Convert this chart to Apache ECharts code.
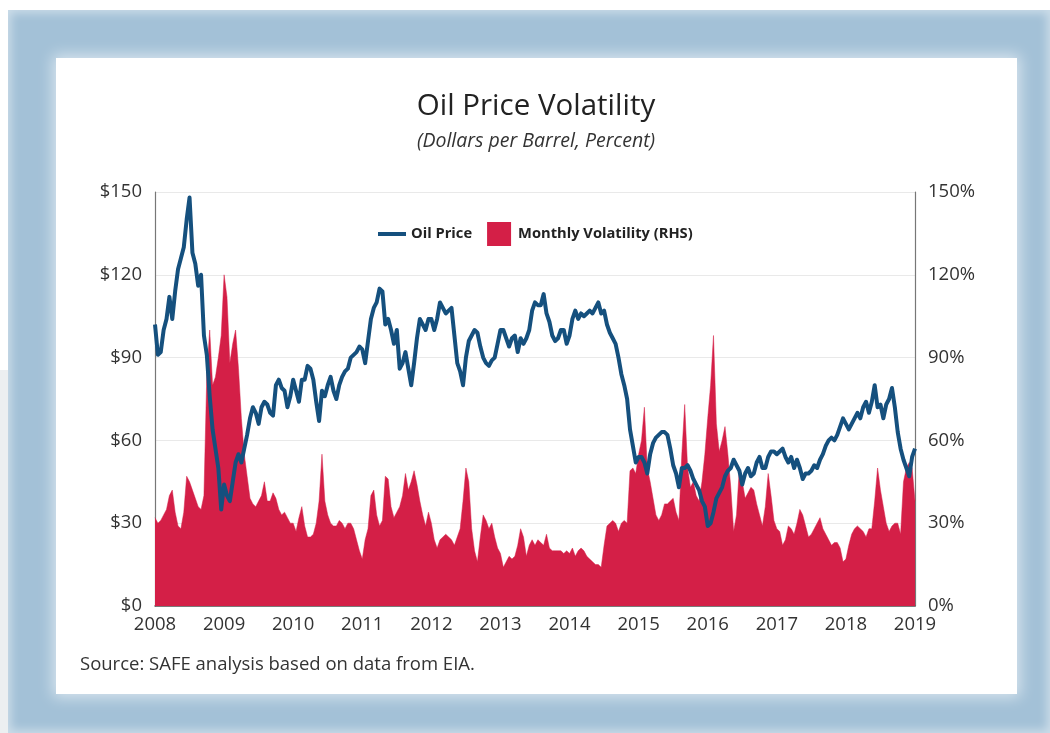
<!DOCTYPE html>
<html>
<head>
<meta charset="utf-8">
<title>Oil Price Volatility</title>
<script src="https://cdn.jsdelivr.net/npm/echarts@6/dist/echarts.min.js"></script>
<style>
    html, body { margin: 0; padding: 0; background: #fff; }
    body { width: 1050px; height: 733px; position: relative; overflow: hidden; }
    #strip { position: absolute; left: 0; top: 370px; width: 8px; height: 363px; background: #eceff1; }
    #frame {
        position: absolute; left: 8px; top: 10px; width: 1042px; height: 723px;
        background: #a3c1d7;
        box-shadow: inset 0 0 10px 3px rgba(255, 255, 255, 0.45);
    }
    #panel {
        position: absolute; left: 56px; top: 58px; width: 961px; height: 636px;
        background: #fff;
        box-shadow: 0 0 14px 3px rgba(255, 255, 255, 0.6);
    }
    #chart { position: absolute; left: 0; top: 0; width: 1050px; height: 733px; }
</style>
</head>
<body>
<div id="strip"></div>
<div id="frame"></div>
<div id="panel"></div>
<div id="chart"></div>
<script>
// semi-monthly readings, 24 per year, Jan 2008 .. Jan 2019
const startYear = 2008;
const pointsPerYear = 24;
const yearTicks = [2008, 2019];

// oil price, $ per barrel
const oilPrice = [
    102, 91, 92, 100, 104, 112, 104, 114, 122, 126, 130, 140, 148, 128, 124, 116, 120, 98, 91, 76, 64, 57, 50, 35, // 2008
    44, 40, 38, 45, 52, 55, 52, 57, 62, 68, 72, 70, 66, 72, 74, 73, 70, 69, 80, 82, 79, 78, 72, 76,             // 2009
    82, 78, 74, 82, 82, 87, 86, 82, 74, 67, 78, 76, 80, 83, 78, 75, 80, 83, 85, 86, 90, 91, 92, 94,             // 2010
    93, 88, 96, 104, 108, 110, 115, 114, 102, 104, 100, 95, 100, 86, 88, 92, 86, 80, 88, 97, 104, 102, 100, 104, // 2011
    104, 100, 104, 110, 108, 106, 107, 108, 98, 88, 85, 80, 90, 96, 98, 100, 99, 94, 90, 88, 87, 89, 90, 95,    // 2012
    100, 100, 97, 94, 97, 98, 92, 97, 95, 97, 100, 107, 110, 109, 109, 113, 106, 103, 98, 96, 97, 100, 100, 95, // 2013
    98, 104, 107, 104, 106, 105, 106, 107, 106, 108, 110, 106, 107, 102, 99, 97, 95, 90, 84, 80, 75, 64, 58, 52, // 2014
    54, 54, 52, 48, 55, 59, 61, 62, 63, 63, 62, 57, 51, 48, 43, 50, 50, 51, 49, 46, 44, 42, 38, 36,             // 2015
    29, 30, 34, 39, 41, 43, 47, 49, 50, 53, 51, 49, 44, 48, 50, 47, 48, 52, 54, 50, 50, 54, 56, 56,             // 2016
    55, 56, 57, 54, 52, 54, 50, 53, 50, 46, 48, 48, 49, 51, 50, 53, 55, 58, 60, 61, 60, 62, 65, 68,             // 2017
    66, 64, 66, 68, 70, 68, 72, 74, 70, 74, 80, 72, 73, 68, 73, 75, 79, 72, 63, 57, 53, 50, 47, 54,             // 2018
    57                                                                                                          // 2019
];

// monthly volatility, percent (RHS)
const volatility = [
    32, 30, 31, 33, 35, 40, 42, 34, 29, 28, 34, 47, 45, 42, 39, 36, 35, 40, 84, 100, 80, 83, 90, 98, // 2008
    120, 112, 88, 95, 100, 86, 68, 55, 47, 39, 37, 36, 38, 40, 45, 38, 38, 41, 39, 35, 33, 34, 32, 30, // 2009
    30, 27, 32, 36, 29, 25, 25, 26, 30, 38, 55, 38, 33, 30, 29, 29, 31, 30, 28, 30, 30, 28, 24, 20,    // 2010
    17, 24, 28, 40, 42, 33, 29, 31, 47, 46, 36, 32, 34, 36, 40, 48, 42, 45, 49, 44, 38, 33, 29, 34,    // 2011
    30, 24, 21, 24, 25, 26, 25, 24, 22, 25, 28, 38, 50, 45, 28, 20, 16, 25, 33, 31, 28, 30, 25, 21,    // 2012
    19, 14, 16, 18, 17, 18, 22, 28, 25, 18, 22, 24, 22, 24, 23, 22, 26, 21, 20, 20, 20, 20, 19, 20,    // 2013
    19, 21, 18, 20, 21, 20, 18, 17, 16, 15, 15, 14, 22, 29, 30, 31, 30, 27, 30, 31, 30, 49, 50, 48,    // 2014
    55, 60, 72, 50, 45, 39, 33, 31, 33, 37, 37, 38, 39, 34, 31, 55, 73, 50, 43, 45, 40, 38, 45, 55,    // 2015
    68, 80, 98, 66, 56, 60, 65, 55, 43, 27, 33, 50, 45, 39, 41, 43, 42, 37, 33, 29, 36, 48, 40, 31,    // 2016
    28, 27, 22, 24, 29, 28, 26, 30, 35, 33, 29, 25, 26, 28, 30, 32, 28, 26, 24, 22, 23, 23, 21, 16,    // 2017
    17, 22, 26, 28, 29, 28, 27, 25, 28, 28, 38, 50, 42, 36, 30, 27, 29, 30, 30, 26, 45, 50, 52, 50,    // 2018
    38                                                                                                  // 2019
];

const priceTicks = [0, 150, 30];

document.addEventListener('DOMContentLoaded', function () {
    const chartDom = document.getElementById('chart');
    const oilChart = echarts.init(chartDom, null, { renderer: 'canvas' });

    const toPoints = function (arr) {
        return arr.map(function (v, i) { return [startYear + i / pointsPerYear, v]; });
    };

    const font = 'Open Sans';
    const red = '#d41f47';
    const blue = '#15507e';

    const option = {
        animation: false,
        title: [
            {
                text: 'Oil Price Volatility',
                subtext: '(Dollars per Barrel, Percent)',
                left: 531,
                textAlign: 'center',
                top: 87,
                itemGap: 9,
                textStyle: { fontFamily: font, fontSize: 29.5, fontWeight: 'normal', color: '#222' },
                subtextStyle: { fontFamily: font, fontSize: 19.5, fontStyle: 'italic', color: '#333' }
            },
            {
                text: 'Source: SAFE analysis based on data from EIA.',
                left: 75,
                top: 650,
                textStyle: { fontFamily: font, fontSize: 18.5, fontWeight: 'normal', color: '#333' }
            }
        ],
        legend: {
            left: 373,
            top: 217,
            itemWidth: 28,
            itemHeight: 24,
            itemGap: 15,
            symbolKeepAspect: true,
            textStyle: { fontFamily: font, fontSize: 14.7, fontWeight: 'bold', color: '#222' },
            data: [
                { name: 'Oil Price', icon: 'path://M0,0 L28,0 L28,4 L0,4 Z' },
                { name: 'Monthly Volatility (RHS)', icon: 'path://M0,0 L24,0 L24,24 L0,24 Z' }
            ]
        },
        grid: { left: 155, right: 135, top: 192, bottom: 127 },
        xAxis: {
            type: 'value',
            min: yearTicks[0],
            max: yearTicks[1],
            interval: 1,
            axisLine: { show: true, onZero: false, lineStyle: { color: '#555', width: 1.5 } },
            axisTick: { show: false },
            splitLine: { show: false },
            axisLabel: {
                fontFamily: font, fontSize: 18.5, color: '#333', margin: 9,
                formatter: function (v) { return String(v); }
            }
        },
        yAxis: [
            {
                type: 'value',
                position: 'left',
                min: priceTicks[0],
                max: priceTicks[1],
                interval: priceTicks[2],
                axisLine: { show: true, lineStyle: { color: '#777', width: 1.2 } },
                axisTick: { show: false },
                splitLine: { show: true, lineStyle: { color: '#e9e9e9' } },
                axisLabel: { fontFamily: font, fontSize: 18.5, color: '#333', margin: 13, formatter: '${value}' }
            },
            {
                type: 'value',
                position: 'right',
                min: priceTicks[0],
                max: priceTicks[1],
                interval: priceTicks[2],
                axisLine: { show: true, lineStyle: { color: '#777', width: 1.2 } },
                axisTick: { show: false },
                splitLine: { show: false },
                axisLabel: { fontFamily: font, fontSize: 18.5, color: '#333', margin: 13, formatter: '{value}%' }
            }
        ],
        series: [
            {
                name: 'Monthly Volatility (RHS)',
                type: 'line',
                yAxisIndex: 1,
                data: toPoints(volatility),
                showSymbol: false,
                symbol: 'none',
                lineStyle: { width: 0.5, color: red },
                itemStyle: { color: red },
                areaStyle: { color: red, opacity: 1, origin: 'start' },
                z: 1
            },
            {
                name: 'Oil Price',
                type: 'line',
                yAxisIndex: 0,
                data: toPoints(oilPrice),
                showSymbol: false,
                symbol: 'none',
                lineStyle: { width: 4, color: blue, join: 'round' },
                itemStyle: { color: blue },
                z: 2
            }
        ]
    };
    oilChart.setOption(option);

    window.addEventListener('resize', function () {
        oilChart.resize();
    });
});
</script>
</body>
</html>
